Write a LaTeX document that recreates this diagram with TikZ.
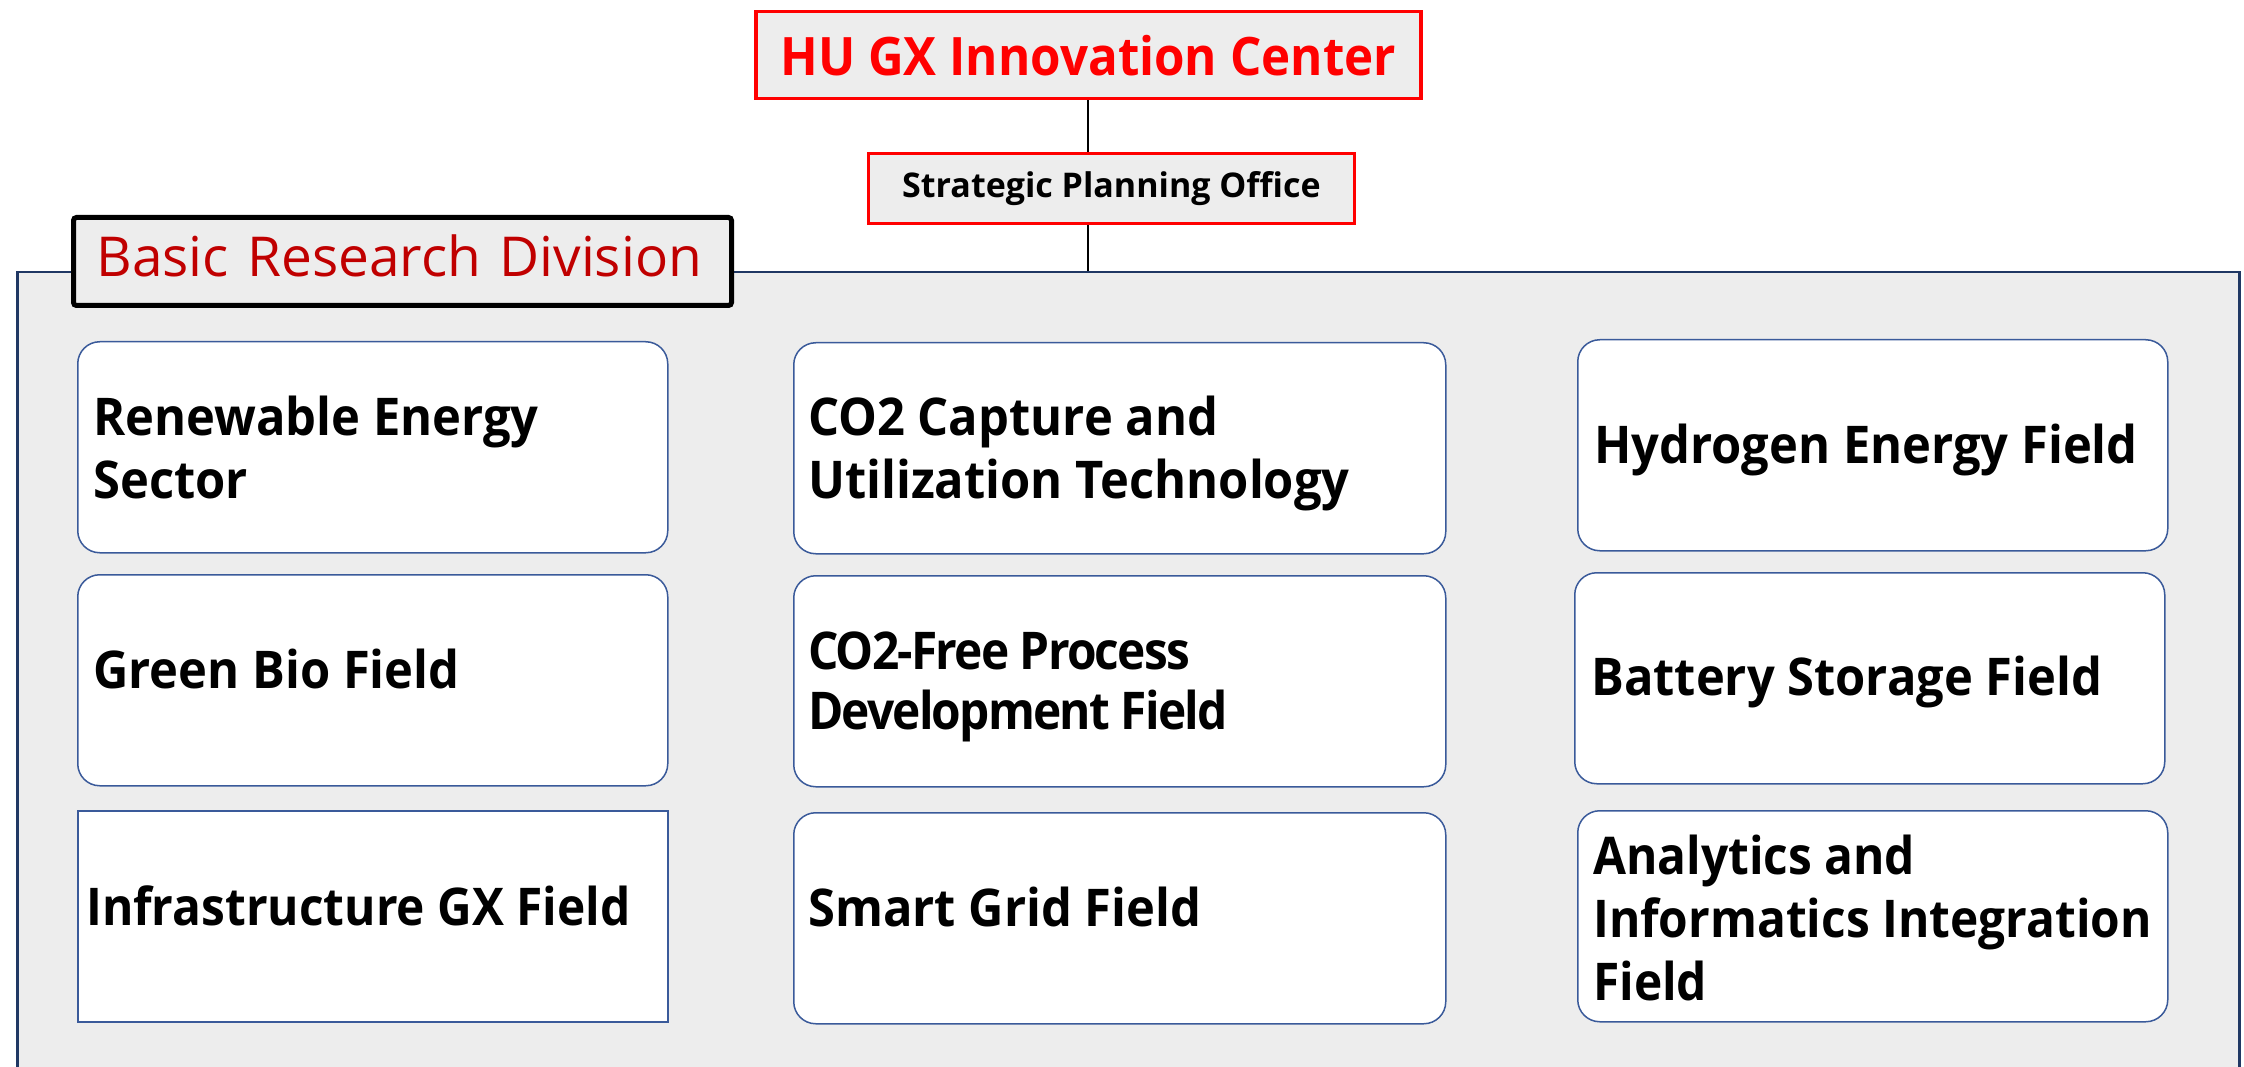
\documentclass[tikz,border=0pt]{standalone}
\usepackage{fontspec}
\setmainfont{Open Sans}
\newfontfamily\fieldfont{Open Sans}[FakeStretch=0.94]
\newfontfamily\narrowfont{Open Sans}[FakeStretch=0.92]
\newfontfamily\tightfont{Open Sans}[FakeStretch=0.92,LetterSpace=-3.5]
\newfontfamily\hufont{Open Sans}[FakeStretch=0.93]
\definecolor{panelfill}{HTML}{EDEDED}
\definecolor{panelline}{HTML}{203864}
\definecolor{fieldline}{HTML}{3A5A9A}
\definecolor{hured}{HTML}{FF0000}
\definecolor{divred}{HTML}{C00000}
\begin{document}
\begin{tikzpicture}[x=1pt,y=-1pt,
  fieldbox/.style={draw=fieldline, fill=white, line width=1.5pt, rounded corners=22pt,
    anchor=north west, inner sep=0pt, minimum height=211pt},
  fieldtext/.style={anchor=west, inner sep=0pt, align=left,
    font=\fontsize{52}{63}\selectfont\fieldfont\bfseries},
  narrowtext/.style={font=\fontsize{52}{63}\selectfont\narrowfont\bfseries},
  topbox/.style={draw=hured, fill=panelfill, anchor=north west, inner sep=0pt},
  conn/.style={draw=black, line width=2pt}]
\useasboundingbox (0,0) rectangle (2244,1067);
\begin{scope}
\clip (0,0) rectangle (2244,1067);
\fill[white] (0,0) rectangle (2244,1067);
\node[draw=panelline, fill=panelfill, line width=2.5pt, anchor=north west,
  minimum width=2222pt, minimum height=830pt, inner sep=0pt] (panel) at (16,271) {};
\end{scope}
% top boxes
\node[topbox, line width=3.5pt, minimum width=665pt, minimum height=87pt,
  text=hured, font=\fontsize{53}{60}\selectfont\hufont\bfseries] (hu) at (754,10) {HU GX Innovation Center};
\node[topbox, line width=3pt, minimum width=486pt, minimum height=70pt,
  font=\fontsize{34}{40}\selectfont\bfseries] (spo) at (867,152) {Strategic Planning Office};
\draw[conn] (hu.south) -- (hu.south |- spo.north);
\draw[conn] (hu.south |- spo.south) -- (hu.south |- panel.north);
% division label
\node[draw=black, fill=panelfill, line width=5pt, rounded corners=3pt, anchor=north west,
  minimum width=658pt, minimum height=88pt, inner xsep=23pt, inner ysep=0pt,
  text width=612pt, align=left, text=divred, font=\fontsize{55}{60}\selectfont] (div) at (71,215) {\raisebox{12pt}{Basic Research Division}};
% column 1
\node[fieldbox, minimum width=590pt] (f11) at (77,341) {};
\node[fieldtext] (t11) at ([xshift=16pt,yshift=0pt]f11.west) {Renewable Energy\\Sector};
\node[fieldbox, minimum width=590pt] (f21) at (77,574) {};
\node[fieldtext] (t21) at ([xshift=16pt,yshift=11pt]f21.west) {Green Bio Field};
\node[fieldbox, minimum width=590pt, rounded corners=0pt] (f31) at (77,810) {};
\node[fieldtext, narrowtext] (t31) at ([xshift=9pt,yshift=10pt]f31.west) {Infrastructure GX Field};
% column 2
\node[fieldbox, minimum width=652pt] (f12) at (793,342) {};
\node[fieldtext] (t12) at ([xshift=15pt,yshift=-5pt]f12.west) {CO2 Capture and\\Utilization Technology};
\node[fieldbox, minimum width=652pt] (f22) at (793,575) {};
\node[fieldtext, font=\fontsize{52}{60}\selectfont\tightfont\bfseries] (t22) at ([xshift=15pt,yshift=-6pt]f22.west) {CO2-Free Process\\Development Field};
\node[fieldbox, minimum width=652pt] (f32) at (793,812) {};
\node[fieldtext] (t32) at ([xshift=15pt,yshift=11pt]f32.west) {Smart Grid Field};
% column 3
\node[fieldbox, minimum width=590pt] (f13) at (1577,339) {};
\node[fieldtext] (t13) at ([xshift=17pt,yshift=-5pt]f13.west) {Hydrogen Energy Field};
\node[fieldbox, minimum width=590pt] (f23) at (1574,572) {};
\node[fieldtext] (t23) at ([xshift=17pt,yshift=-4pt]f23.west) {Battery Storage Field};
\node[fieldbox, minimum width=590pt] (f33) at (1577,810) {};
\node[fieldtext, narrowtext] (t33) at ([xshift=16pt,yshift=-2pt]f33.west) {Analytics and\\Informatics Integration\\Field};
\end{tikzpicture}
\end{document}
